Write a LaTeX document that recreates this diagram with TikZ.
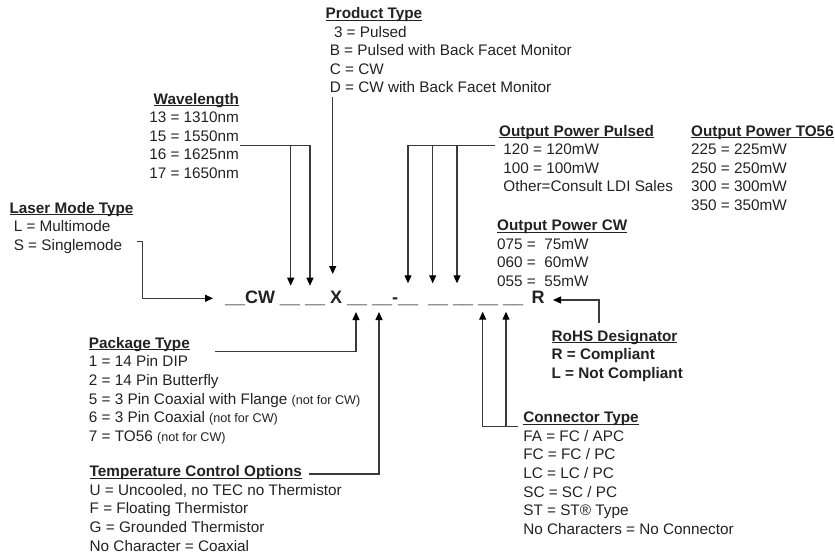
\documentclass[tikz,border=0pt]{standalone}
\usepackage{fontspec}
\setmainfont{Liberation Sans}
\usetikzlibrary{arrows.meta}
\definecolor{ink}{HTML}{222222}
\definecolor{wirec}{HTML}{3A3A3A}
\newcommand\hd[1]{\setbox0\hbox{\bfseries #1}\rlap{\rule[-2.15pt]{\wd0}{1.1pt}}\box0}
\newcommand\myind{\hspace*{4.2pt}}
\newcommand\smallnote[1]{{\fontsize{12.6}{14}\selectfont #1}}
\tikzset{
  txt/.style={font=\fontsize{15.3}{18.6}\selectfont, text=ink, inner sep=0pt, outer sep=0pt},
  codetxt/.style={font=\fontsize{18}{20}\selectfont\bfseries, text=ink, inner sep=0pt, outer sep=0pt},
  wire/.style={draw=wirec, line width=1.2pt},
  arr/.style={wire, -{Triangle[length=8pt,width=7pt,color=black]}}
}
\begin{document}
\begin{tikzpicture}[x=1pt,y=-1pt]
\useasboundingbox (0,0) rectangle (835,554);

% code line
\node[codetxt, anchor=base west] (code) at (225,303) {\_\_CW \_\_ \_\_ X \_\_ \_\_-\_\_\ \ \_\_ \_\_ \_\_ \_\_};
\node[codetxt, anchor=base west] (codeR) at (531.5,303) {R};

% text blocks
\node[txt, anchor=base west] (prod) at (325.6,18.5) {\begin{tabular}[t]{@{}l@{}}\hd{Product Type}\\
\myind\myind 3 = Pulsed\\
\myind B = Pulsed with Back Facet Monitor\\
\myind C = CW\\
\myind D = CW with Back Facet Monitor\end{tabular}};

\node[txt, anchor=base east] (wave) at (239,104) {\begin{tabular}[t]{@{}r@{}}\hd{Wavelength}\\
13 = 1310nm\\
15 = 1550nm\\
16 = 1625nm\\
17 = 1650nm\end{tabular}};

\node[txt, anchor=base west] (laser) at (9.6,213) {\begin{tabular}[t]{@{}l@{}}\hd{Laser Mode Type}\\
\myind L = Multimode\\
\myind S = Singlemode\end{tabular}};

\node[txt, anchor=base west] (pulsed) at (499.2,136) {\begin{tabular}[t]{@{}l@{}}\hd{Output Power Pulsed}\\
\myind 120 = 120mW\\
\myind 100 = 100mW\\
\myind Other=Consult LDI Sales\end{tabular}};

\node[txt, anchor=base west] (tofs) at (691.2,136) {\begin{tabular}[t]{@{}l@{}}\hd{Output Power TO56}\\
225 = 225mW\\
250 = 250mW\\
300 = 300mW\\
350 = 350mW\end{tabular}};

\node[txt, anchor=base west] (cwp) at (497.2,230.5) {\begin{tabular}[t]{@{}l@{}}\hd{Output Power CW}\\
075 =\ \ 75mW\\
060 =\ \ 60mW\\
055 =\ \ 55mW\end{tabular}};

\node[txt, anchor=base west] (pack) at (88.9,348.3) {\begin{tabular}[t]{@{}l@{}}\hd{Package Type}\\
1 = 14 Pin DIP\\
2 = 14 Pin Butterfly\\
5 = 3 Pin Coaxial with Flange \smallnote{(not for CW)}\\
6 = 3 Pin Coaxial \smallnote{(not for CW)}\\
7 = TO56 \smallnote{(not for CW)}\end{tabular}};

\node[txt, anchor=base west] (temp) at (89.7,476.7) {\begin{tabular}[t]{@{}l@{}}\hd{Temperature Control Options}\\
U = Uncooled, no TEC no Thermistor\\
F = Floating Thermistor\\
G = Grounded Thermistor\\
No Character = Coaxial\end{tabular}};

\node[txt, anchor=base west] (rohs) at (551.6,341) {\begin{tabular}[t]{@{}l@{}}\hd{RoHS Designator}\\
\bfseries R = Compliant\\
\bfseries L = Not Compliant\end{tabular}};

\node[txt, anchor=base west] (conn) at (523.3,422.7) {\begin{tabular}[t]{@{}l@{}}\hd{Connector Type}\\
FA = FC / APC\\
FC = FC / PC\\
LC = LC / PC\\
SC = SC / PC\\
ST = ST® Type\\
No Characters = No Connector\end{tabular}};

% connector coordinates
\coordinate (lmS) at (137,241.7);
\coordinate (lmT) at (213,298.3);
\coordinate (wlS) at (240,145.7);
\coordinate (wl1) at (290.7,285.7);
\coordinate (wl2) at (310,285.7);
\coordinate (ptS) at (332.7,97);
\coordinate (ptT) at (332.7,274);
\coordinate (ppS) at (495,145.7);
\coordinate (pp1) at (408,283.3);
\coordinate (pp2) at (432.7,283.3);
\coordinate (pp3) at (457,283.3);
\coordinate (rhS) at (599,323);
\coordinate (rhT) at (553,300);
\coordinate (pkS) at (215,351.7);
\coordinate (pkT) at (356,312);
\coordinate (tcS) at (309,474);
\coordinate (tcT) at (379,312);
\coordinate (ctS) at (517.7,426.7);
\coordinate (ct1) at (482.7,311.7);
\coordinate (ct2) at (506,311.7);

% connectors
\draw[arr] (lmS) -- ++(5.7,0) |- (lmT);
\draw[arr] (wlS) -| (wl2);
\draw[arr] (wl1 |- wlS) -- (wl1);
\draw[arr] (ptS) -- (ptT);
\draw[arr] (ppS) -| (pp1);
\draw[arr] (pp2 |- ppS) -- (pp2);
\draw[arr] (pp3 |- ppS) -- (pp3);
\draw[arr] (rhS) |- (rhT);
\draw[arr] (pkS) -| (pkT);
\draw[arr] (tcS) -| (tcT);
\draw[arr] (ctS) -| (ct1);
\draw[arr] (ct2 |- ctS) -- (ct2);
\end{tikzpicture}
\end{document}
